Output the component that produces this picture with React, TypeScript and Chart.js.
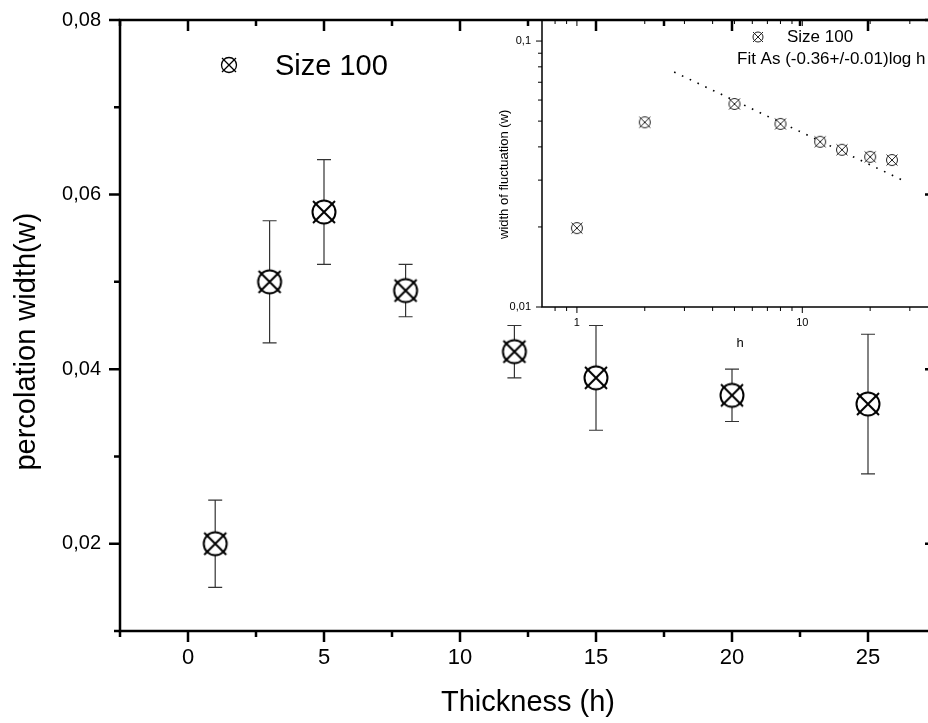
import React, { useEffect, useRef } from 'react';
import { Chart, registerables } from 'chart.js';

Chart.register(...registerables);

// ---- data ----
const hValues = [1, 3, 5, 8, 12, 15, 20, 25];
const wValues = [0.020, 0.050, 0.058, 0.049, 0.042, 0.039, 0.037, 0.036];
const wErrors = [0.005, 0.007, 0.006, 0.003, 0.003, 0.006, 0.003, 0.008];

const insetH = [1, 2, 5, 8, 12, 15, 20, 25];
const insetW = [0.0198, 0.0495, 0.058, 0.0488, 0.0418, 0.039, 0.0367, 0.0357];
const fitH = [2.7, 29];
const fitW = [0.0765, 0.0295];

const mainXTicks = [-2.5, 0, 2.5, 5, 7.5, 10, 12.5, 15, 17.5, 20, 22.5, 25, 27.5];
const mainXLabels = [0, 5, 10, 15, 20, 25];
const mainYTicks = [0.01, 0.02, 0.03, 0.04, 0.05, 0.06, 0.07, 0.08];
const mainYLabels = [0.02, 0.04, 0.06, 0.08];

const insetXTicks = [0.8, 0.9, 1, 2, 3, 4, 5, 6, 7, 8, 9, 10, 20, 30, 40];
const insetXLabels = [1, 10];
const insetYTicks = [0.01, 0.02, 0.03, 0.04, 0.05, 0.06, 0.07, 0.08, 0.09, 0.1];
const insetYLabels = [0.01, 0.1];

const mainSeriesName = 'Size 100';
const fitLabel = 'Fit As (-0.36+/-0.01)log h';
const mainYTitle = 'percolation width(w)';
const insetYTitle = 'width of fluctuation (w)';

const FONT = "'Liberation Sans', Arial, sans-serif";
const NBSP = '\u00a0';

const has = (arr: number[], v: number) => arr.some((a) => Math.abs(a - v) < 1e-9);
const fmt = (v: number) => String(v).replace('.', ',');

function makeMarker(size: number, r: number, lw: number, cross: number, color: string) {
  const c = document.createElement('canvas');
  c.width = size;
  c.height = size;
  const g = c.getContext('2d')!;
  const m = size / 2;
  g.beginPath();
  g.arc(m, m, r, 0, Math.PI * 2);
  g.fillStyle = '#fff';
  g.fill();
  g.lineWidth = lw;
  g.strokeStyle = color;
  g.stroke();
  g.beginPath();
  g.moveTo(m - cross, m - cross);
  g.lineTo(m + cross, m + cross);
  g.moveTo(m + cross, m - cross);
  g.lineTo(m - cross, m + cross);
  g.stroke();
  return c;
}

const tickPlugin = {
  id: 'frameTicks',
  afterDraw(chart: any, _args: any, opts: any) {
    const { ctx, chartArea: a } = chart;
    const xs = chart.scales.x;
    const ys = chart.scales.y;
    ctx.save();
    ctx.strokeStyle = '#000';
    ctx.lineWidth = opts.frameWidth;
    ctx.strokeRect(a.left, a.top, a.right - a.left, a.bottom - a.top);
    ctx.lineWidth = opts.tickWidth;
    ctx.lineCap = 'butt';
    ctx.beginPath();
    xs.ticks.forEach((t: any) => {
      const px = xs.getPixelForValue(t.value);
      if (px < a.left - 0.5 || px > a.right + 0.5) return;
      const len = has(opts.xMajor, t.value) ? opts.major : opts.minor;
      ctx.moveTo(px, a.bottom);
      ctx.lineTo(px, a.bottom + len);
      ctx.moveTo(px, a.top);
      ctx.lineTo(px, a.top + len);
    });
    ys.ticks.forEach((t: any) => {
      const py = ys.getPixelForValue(t.value);
      if (py < a.top - 0.5 || py > a.bottom + 0.5) return;
      const len = has(opts.yMajor, t.value) ? opts.major : opts.minor;
      ctx.moveTo(a.left, py);
      ctx.lineTo(a.left - len, py);
      ctx.moveTo(a.right, py);
      ctx.lineTo(a.right - len, py);
    });
    ctx.stroke();
    ctx.restore();
  },
};

const errorBarPlugin = {
  id: 'errorBars',
  beforeDatasetsDraw(chart: any) {
    const { ctx } = chart;
    const xs = chart.scales.x;
    const ys = chart.scales.y;
    ctx.save();
    ctx.strokeStyle = '#333';
    ctx.lineWidth = 1.2;
    ctx.beginPath();
    hValues.forEach((h, i) => {
      const px = xs.getPixelForValue(h);
      const hi = ys.getPixelForValue(wValues[i] + wErrors[i]);
      const lo = ys.getPixelForValue(wValues[i] - wErrors[i]);
      ctx.moveTo(px, hi);
      ctx.lineTo(px, lo);
      ctx.moveTo(px - 7, hi);
      ctx.lineTo(px + 7, hi);
      ctx.moveTo(px - 7, lo);
      ctx.lineTo(px + 7, lo);
    });
    ctx.stroke();
    ctx.restore();
  },
};

const legendPlugin = {
  id: 'textLegend',
  afterDraw(chart: any, _args: any, opts: any) {
    const { ctx, chartArea: a } = chart;
    ctx.save();
    ctx.fillStyle = '#000';
    ctx.textBaseline = 'alphabetic';
    ctx.textAlign = 'left';
    (opts.items || []).forEach((it: any) => {
      if (it.marker) {
        const m = it.marker;
        ctx.drawImage(m, a.left + it.mx - m.width / 2, a.top + it.my - m.height / 2);
      }
      ctx.font = `${it.size}px ${FONT}`;
      ctx.fillText(it.text, a.left + it.tx, a.top + it.ty);
    });
    ctx.restore();
  },
};

const noPadV = (s: any) => {
  s.paddingTop = 0;
  s.paddingBottom = 0;
};
const noPadH = (s: any) => {
  s.paddingLeft = 0;
  s.paddingRight = 0;
};

export default function App() {
  const mainRef = useRef<HTMLCanvasElement>(null);
  const insetRef = useRef<HTMLCanvasElement>(null);

  useEffect(() => {
    const mainMarker = makeMarker(30, 11.5, 2, 11, '#000');
    const legendMarker = makeMarker(20, 7.5, 1.3, 7, '#000');
    const insetMarker = makeMarker(16, 5.5, 1, 5.5, '#222');
    const insetLegendMarker = makeMarker(14, 5, 1, 5, '#222');

    const main = new Chart(mainRef.current!, {
      type: 'scatter',
      data: {
        datasets: [
          {
            label: mainSeriesName,
            data: hValues.map((h, i) => ({ x: h, y: wValues[i] })),
            pointStyle: mainMarker as any,
            pointRadius: 12,
            showLine: false,
          },
        ],
      },
      options: {
        animation: false,
        responsive: false,
        events: [],
        layout: { padding: { top: 20, right: 14, left: 0, bottom: 0 } },
        plugins: {
          legend: { display: false },
          tooltip: { enabled: false },
          frameTicks: { frameWidth: 2.5, tickWidth: 2.5, major: 11, minor: 6, xMajor: mainXLabels, yMajor: mainYLabels },
          textLegend: {
            items: [{ marker: legendMarker, mx: 109, my: 45, text: mainSeriesName, size: 29, tx: 155, ty: 55 }],
          },
        } as any,
        scales: {
          x: {
            type: 'linear',
            min: -2.5,
            max: 27.5,
            afterBuildTicks: (s: any) => {
              s.ticks = mainXTicks.map((v) => ({ value: v }));
            },
            afterFit: (s: any) => {
              s.height = 92;
              noPadH(s);
            },
            grid: { display: false, drawTicks: false },
            border: { display: false },
            ticks: {
              autoSkip: false,
              maxRotation: 0,
              padding: 14,
              color: '#000',
              font: { family: FONT, size: 22 },
              callback: (v: any) => (has(mainXLabels, v) ? String(v) : ''),
            },
            title: {
              display: true,
              text: 'Thickness (h)',
              color: '#000',
              font: { family: FONT, size: 29 },
              padding: { top: 0, bottom: 3 },
            },
          },
          y: {
            type: 'linear',
            min: 0.01,
            max: 0.08,
            afterBuildTicks: (s: any) => {
              s.ticks = mainYTicks.map((v) => ({ value: v }));
            },
            afterFit: (s: any) => {
              s.width = 120;
              noPadV(s);
            },
            grid: { display: false, drawTicks: false },
            border: { display: false },
            ticks: {
              autoSkip: false,
              padding: 19,
              color: '#000',
              font: { family: FONT, size: 20 },
              callback: (v: any) => (has(mainYLabels, v) ? Number(v).toFixed(2).replace('.', ',') : ''),
            },
            title: {
              display: true,
              text: mainYTitle + NBSP.repeat(4),
              color: '#000',
              font: { family: FONT, size: 29 },
              padding: { top: 10, bottom: 0 },
            },
          },
        },
      },
      plugins: [errorBarPlugin, tickPlugin, legendPlugin],
    } as any);

    const inset = new Chart(insetRef.current!, {
      type: 'scatter',
      data: {
        datasets: [
          {
            label: mainSeriesName,
            data: insetH.map((h, i) => ({ x: h, y: insetW[i] })),
            pointStyle: insetMarker as any,
            pointRadius: 6,
            showLine: false,
          },
          {
            label: fitLabel,
            data: fitH.map((h, i) => ({ x: h, y: fitW[i] })),
            showLine: true,
            pointRadius: 0,
            borderColor: '#000',
            borderWidth: 1.6,
            borderDash: [1.6, 7],
          },
        ],
      },
      options: {
        animation: false,
        responsive: false,
        events: [],
        layout: { padding: { top: 20, right: 12, left: 0, bottom: 0 } },
        plugins: {
          legend: { display: false },
          tooltip: { enabled: false },
          frameTicks: { frameWidth: 1.5, tickWidth: 1, major: 6, minor: 4, xMajor: insetXLabels, yMajor: insetYLabels },
          textLegend: {
            items: [
              { marker: insetLegendMarker, mx: 216, my: 17, text: mainSeriesName, size: 17, tx: 245, ty: 22 },
              { text: fitLabel, size: 17, tx: 195, ty: 44 },
            ],
          },
        } as any,
        scales: {
          x: {
            type: 'logarithmic',
            min: 0.7,
            max: 40,
            afterBuildTicks: (s: any) => {
              s.ticks = insetXTicks.map((v) => ({ value: v }));
            },
            afterFit: (s: any) => {
              s.height = 53;
              noPadH(s);
            },
            grid: { display: false, drawTicks: false },
            border: { display: false },
            ticks: {
              autoSkip: false,
              maxRotation: 0,
              padding: 9,
              color: '#000',
              font: { family: FONT, size: 11 },
              callback: (v: any) => (has(insetXLabels, v) ? fmt(v) : ''),
            },
            title: {
              display: true,
              text: 'h',
              color: '#000',
              font: { family: FONT, size: 13 },
              padding: { top: 0, bottom: 9 },
            },
          },
          y: {
            type: 'logarithmic',
            min: 0.01,
            max: 0.12,
            afterBuildTicks: (s: any) => {
              s.ticks = insetYTicks.map((v) => ({ value: v }));
            },
            afterFit: (s: any) => {
              s.width = 102;
              noPadV(s);
            },
            grid: { display: false, drawTicks: false },
            border: { display: false },
            ticks: {
              autoSkip: false,
              padding: 11,
              color: '#000',
              font: { family: FONT, size: 11 },
              callback: (v: any) => (has(insetYLabels, v) ? fmt(v) : ''),
            },
            title: {
              display: true,
              text: insetYTitle + NBSP.repeat(6),
              color: '#000',
              font: { family: FONT, size: 13 },
              padding: { top: 57, bottom: 0 },
            },
          },
        },
      },
      plugins: [tickPlugin, legendPlugin],
    } as any);

    return () => {
      main.destroy();
      inset.destroy();
    };
  }, []);

  return (
    <div
      style={{
        position: 'absolute',
        left: 0,
        top: 0,
        width: 928,
        height: 723,
        overflow: 'hidden',
        background: '#fff',
      }}
    >
      <canvas ref={mainRef} width={950} height={723} style={{ position: 'absolute', left: 0, top: 0 }} />
      <canvas ref={insetRef} width={510} height={360} style={{ position: 'absolute', left: 440, top: 0 }} />
    </div>
  );
}
